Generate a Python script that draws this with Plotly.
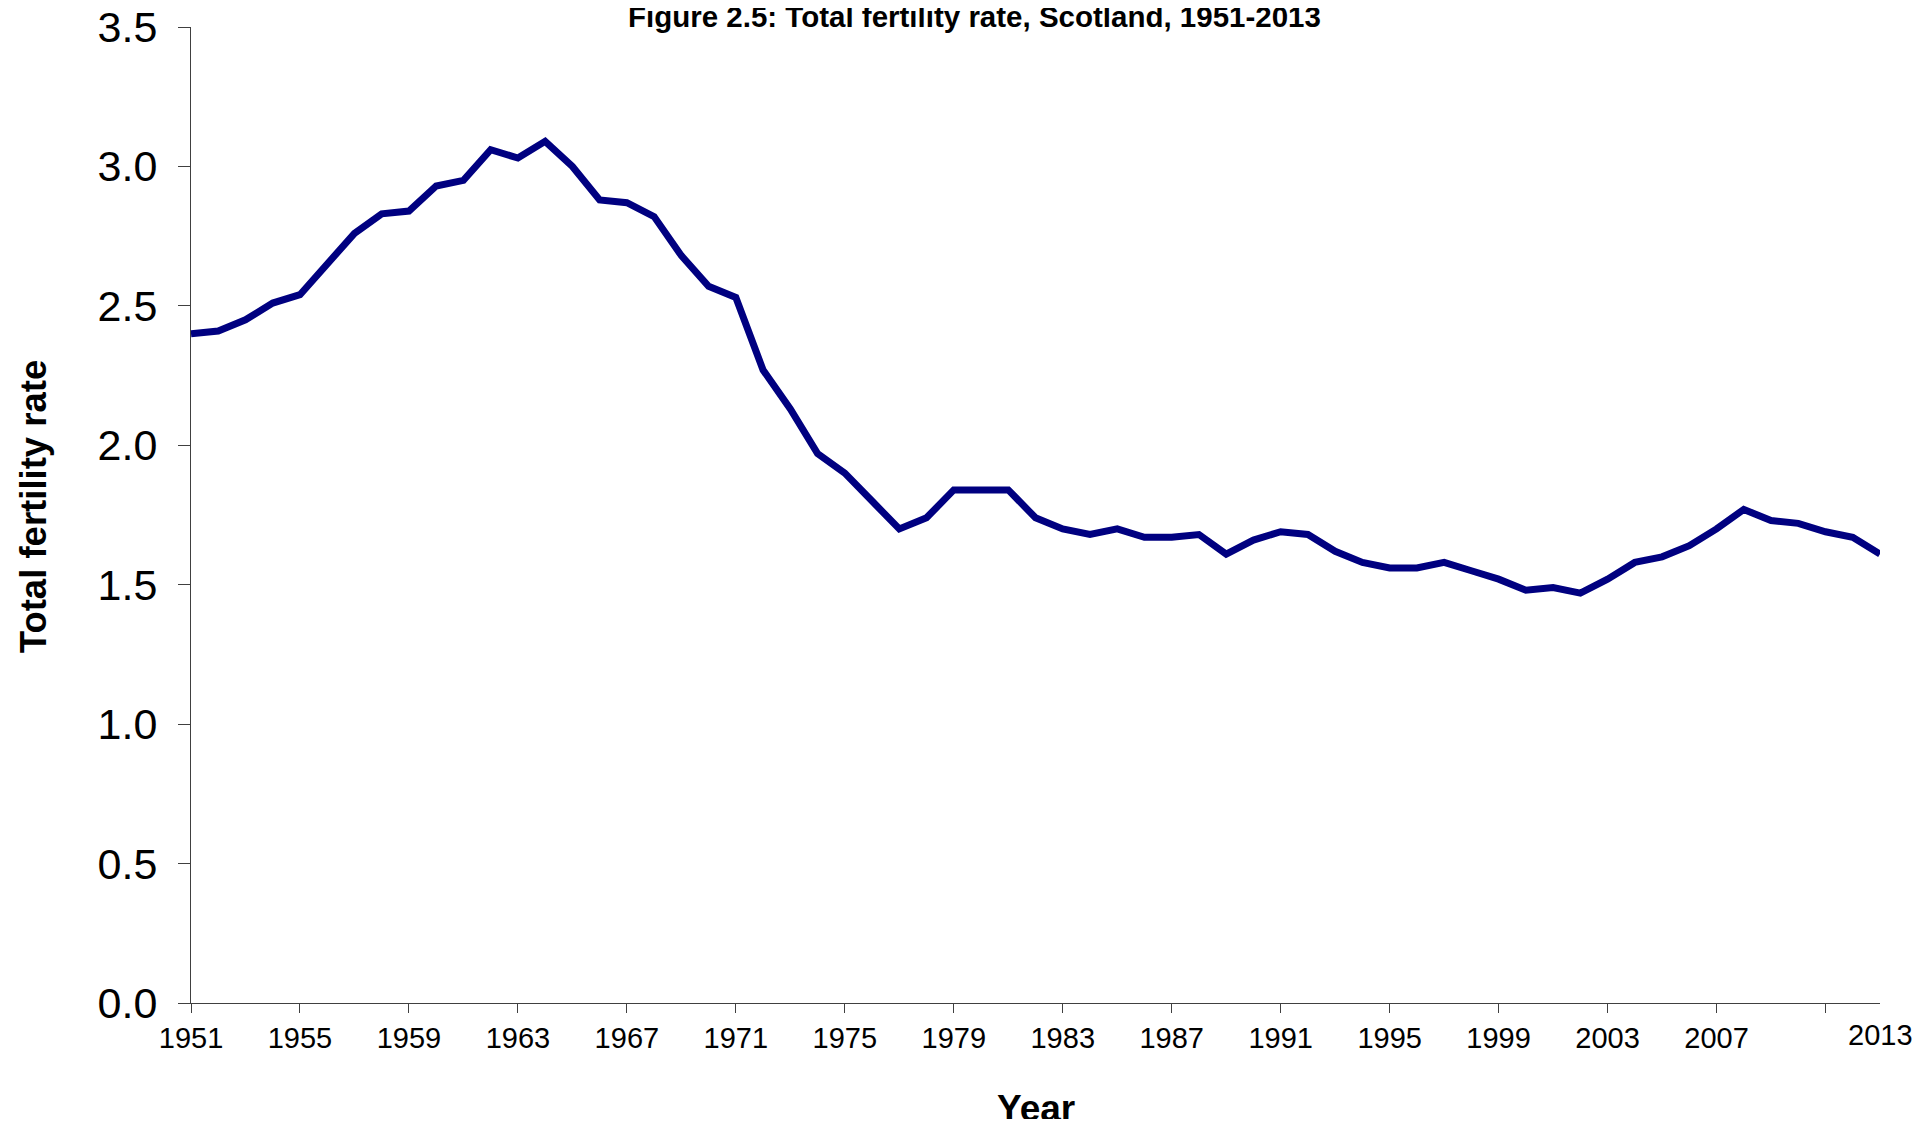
import plotly.graph_objects as go

years = list(range(1951, 2014))
tfr = [2.40, 2.41, 2.45, 2.51, 2.54, 2.65, 2.76, 2.83, 2.84, 2.93,
       2.95, 3.06, 3.03, 3.09, 3.00, 2.88, 2.87, 2.82, 2.68, 2.57,
       2.53, 2.27, 2.13, 1.97, 1.90, 1.80, 1.70, 1.74, 1.84, 1.84,
       1.84, 1.74, 1.70, 1.68, 1.70, 1.67, 1.67, 1.68, 1.61, 1.66,
       1.69, 1.68, 1.62, 1.58, 1.56, 1.56, 1.58, 1.55, 1.52, 1.48,
       1.49, 1.47, 1.52, 1.58, 1.60, 1.64, 1.70, 1.77, 1.73, 1.72,
       1.69, 1.67, 1.61]

x_tickvals = list(range(1951, 2012, 4))
x_ticktext = [str(v) for v in x_tickvals[:-1]] + [""]
y_tickvals = [0, 0.5, 1.0, 1.5, 2.0, 2.5, 3.0, 3.5]
y_ticktext = ["0.0", "0.5", "1.0", "1.5", "2.0", "2.5", "3.0", "3.5"]

title_text = "Figure 2.5: Total fertility rate, Scotland, 1951-2013"
x_title = "Year"
y_title = "Total fertility rate"

fig = go.Figure()
fig.add_trace(go.Scatter(x=years, y=tfr, mode="lines",
                         line=dict(color="#000080", width=7),
                         showlegend=False))

fig.update_layout(
    width=1904, height=1111,
    paper_bgcolor="white", plot_bgcolor="white",
    margin=dict(l=183, r=32, t=19, b=116),
    font=dict(family="Liberation Sans, Arial", color="black"),
)
fig.update_xaxes(range=[1951, 2013], tickvals=x_tickvals, ticktext=x_ticktext,
                 automargin=False, ticklabeloverflow="allow",
                 showgrid=False, zeroline=False, showline=True, linecolor="#404040", linewidth=1,
                 ticks="outside", ticklen=9, tickcolor="#404040",
                 tickfont=dict(size=29))
fig.update_yaxes(range=[0, 3.5], tickvals=y_tickvals, ticktext=y_ticktext,
                 automargin=False, ticklabeloverflow="allow",
                 showgrid=False, zeroline=False, showline=True, linecolor="#404040", linewidth=1,
                 ticks="outside", ticklen=12, tickcolor="#404040",
                 tickfont=dict(size=43), ticklabelstandoff=12)

# end label of x axis
fig.add_annotation(x=2013, y=0, xref="x", yref="y", text="2013", showarrow=False,
                   yanchor="top", yshift=-14, font=dict(size=29))
# chart title
fig.add_annotation(x=(974 - 191) / 1689, y=1, xref="paper", yref="paper",
                   text="<b>" + title_text + "</b>", showarrow=False,
                   xanchor="center", yanchor="bottom", yshift=-8,
                   font=dict(family="Liberation Sans Narrow, Liberation Sans, Arial", size=29.5))
# axis titles
fig.add_annotation(x=0.5, y=(995 - 1100) / 976, xref="paper", yref="paper",
                   text="<b>" + x_title + "</b>", showarrow=False,
                   xanchor="center", yanchor="middle", font=dict(size=37))
fig.add_annotation(x=(33 - 191) / 1689, y=0.508, xref="paper", yref="paper",
                   text="<b>" + y_title + "</b>", showarrow=False, textangle=-90,
                   xanchor="center", yanchor="middle", font=dict(size=36.5))

fig.write_html("out.html")
